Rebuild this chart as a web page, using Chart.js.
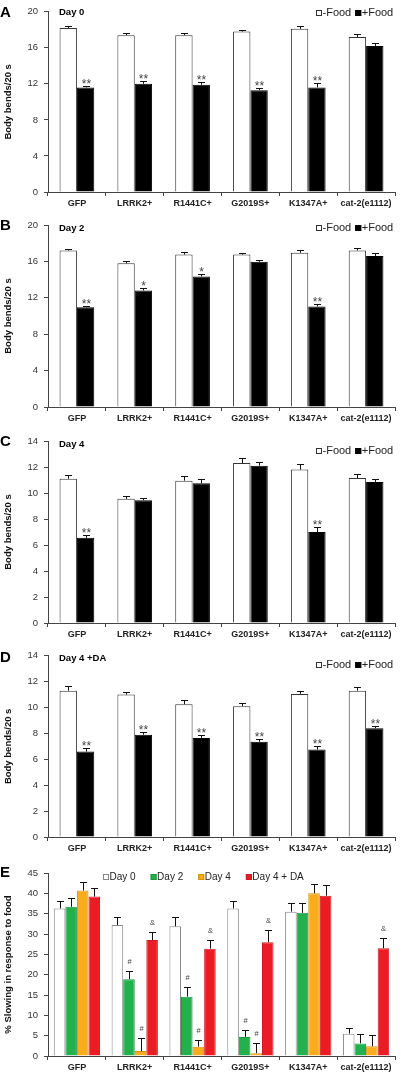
<!DOCTYPE html>
<html>
<head>
<meta charset="utf-8">
<script src="https://cdn.jsdelivr.net/npm/chart.js@4.4.1/dist/chart.umd.min.js"></script>
<style>
  body { margin: 0; background: #fff; }
  #wrap { position: relative; width: 400px; height: 1075px; overflow: hidden; }
  canvas { position: absolute; left: 0; }
</style>
</head>
<body>
<div id="wrap">
  <canvas id="cA"></canvas>
  <canvas id="cB"></canvas>
  <canvas id="cC"></canvas>
  <canvas id="cD"></canvas>
  <canvas id="cE"></canvas>
</div>
<script>
// strains on the x axis
const strains = ["GFP", "LRRK2+", "R1441C+", "G2019S+", "K1347A+", "cat-2(e1112)"];

// A - Day 0
const day0NoFood = [18.2, 17.4, 17.4, 17.8, 18.1, 17.2];
const day0NoFoodErr = [0.2, 0.2, 0.2, 0.2, 0.3, 0.3];
const day0Food = [11.6, 12.0, 11.9, 11.3, 11.6, 16.2];
const day0FoodErr = [0.2, 0.3, 0.35, 0.2, 0.45, 0.3];
const day0Stars = ["**", "**", "**", "**", "**", ""];

// B - Day 2
const day2NoFood = [17.2, 15.8, 16.75, 16.75, 16.95, 17.2];
const day2NoFoodErr = [0.2, 0.2, 0.3, 0.2, 0.3, 0.3];
const day2Food = [10.95, 12.8, 14.35, 15.95, 11.05, 16.6];
const day2FoodErr = [0.15, 0.3, 0.25, 0.2, 0.3, 0.3];
const day2Stars = ["**", "*", "*", "", "**", ""];

// C - Day 4
const day4NoFood = [11.1, 9.55, 10.95, 12.3, 11.8, 11.15];
const day4NoFoodErr = [0.25, 0.25, 0.35, 0.4, 0.4, 0.28];
const day4Food = [6.55, 9.45, 10.75, 12.1, 7.0, 10.85];
const day4FoodErr = [0.2, 0.15, 0.3, 0.25, 0.4, 0.2];
const day4Stars = ["**", "", "", "", "**", ""];

// D - Day 4 + DA
const day4daNoFood = [11.3, 11.0, 10.25, 10.1, 11.05, 11.3];
const day4daNoFoodErr = [0.33, 0.2, 0.33, 0.23, 0.23, 0.25];
const day4daFood = [6.6, 7.9, 7.65, 7.35, 6.75, 8.4];
const day4daFoodErr = [0.3, 0.18, 0.23, 0.2, 0.25, 0.2];
const day4daStars = ["**", "**", "**", "**", "**", "**"];

// E - % slowing in response to food
const slowDay0 = [36.3, 32.2, 31.9, 36.3, 35.5, 5.5];
const slowDay0Err = [1.9, 1.9, 2.2, 1.9, 2.1, 1.3];
const slowDay2 = [36.7, 18.9, 14.6, 4.7, 35.2, 3.1];
const slowDay2Err = [2.2, 2.0, 2.4, 1.6, 2.5, 2.2];
const slowDay2Marks = ["", "#", "#", "#", "", ""];
const slowDay4 = [40.7, 1.2, 2.3, 0.7, 40.0, 2.4];
const slowDay4Err = [2.2, 3.2, 1.7, 2.6, 2.2, 2.7];
const slowDay4Marks = ["", "#", "#", "#", "", ""];
const slowDay4DA = [39.2, 28.5, 26.4, 28.0, 39.4, 26.5];
const slowDay4DAErr = [2.2, 2.1, 2.1, 2.9, 2.6, 2.6];
const slowDay4DAMarks = ["", "&", "&", "&", "", "&"];

Chart.defaults.font.family = "'Liberation Sans', Arial, sans-serif";
Chart.defaults.color = "#333";

const errorBars = {
  id: "errorBars",
  afterDatasetsDraw(chart) {
    const ctx = chart.ctx;
    const ys = chart.scales.y;
    chart.data.datasets.forEach((ds, i) => {
      const meta = chart.getDatasetMeta(i);
      meta.data.forEach((bar, j) => {
        const x = Math.round(bar.x) + 0.5;
        const top = Math.round(ys.getPixelForValue(ds.data[j] + ds.errors[j])) + 0.5;
        ctx.save();
        ctx.strokeStyle = "#111";
        ctx.lineWidth = 1;
        ctx.beginPath();
        ctx.moveTo(x, bar.y);
        ctx.lineTo(x, top);
        ctx.moveTo(x - 3.5, top);
        ctx.lineTo(x + 3.5, top);
        ctx.stroke();
        if (ds.marks && ds.marks[j]) {
          const m = ds.marks[j];
          ctx.fillStyle = "#444";
          ctx.textAlign = "center";
          ctx.textBaseline = "alphabetic";
          if (m.indexOf("*") >= 0) {
            ctx.font = "12px 'Liberation Sans', Arial";
            ctx.fillText(m, x, top + 1);
          } else {
            ctx.font = "7.5px 'Liberation Sans', Arial";
            ctx.fillText(m, x, top - 8);
          }
        }
        ctx.restore();
      });
    });
  }
};

const decor = {
  id: "decor",
  afterDraw(chart, args, o) {
    const ctx = chart.ctx;
    ctx.save();
    ctx.fillStyle = "#000";
    ctx.textBaseline = "middle";
    ctx.font = "bold 15px 'Liberation Sans', Arial";
    ctx.fillText(o.letter, 0, o.letterY);
    if (o.title) {
      ctx.font = "bold 9.5px 'Liberation Sans', Arial";
      ctx.fillText(o.title, 59, o.titleY);
    }
    ctx.font = o.legendFont + "px 'Liberation Sans', Arial";
    let x = o.legendX;
    chart.data.datasets.forEach((ds) => {
      ctx.fillStyle = ds.backgroundColor;
      ctx.fillRect(x, o.legendY - 3, 6, 6);
      ctx.strokeStyle = ds.borderColor;
      ctx.lineWidth = 1;
      ctx.strokeRect(x + 0.5, o.legendY - 2.5, 5, 5);
      ctx.fillStyle = "#222";
      ctx.fillText(ds.label, x + 6.5, o.legendY);
      x += 6.5 + ctx.measureText(ds.label).width + o.legendGap;
    });
    ctx.restore();
  }
};

function makeChart(id, top, height, padTop, xh, datasets, ymax, step, ytitle, deco, catPct) {
  const cv = document.getElementById(id);
  cv.width = 400;
  cv.height = height;
  cv.style.top = top + "px";
  return new Chart(cv, {
    type: "bar",
    data: { labels: strains, datasets: datasets },
    options: {
      responsive: false,
      animation: false,
      devicePixelRatio: 1,
      layout: { padding: { top: padTop, right: 5, bottom: 0, left: 0 } },
      datasets: { bar: { categoryPercentage: catPct, barPercentage: 1.0 } },
      plugins: { legend: { display: false }, tooltip: { enabled: false }, decor: deco },
      scales: {
        x: {
          ticks: { color: "#222", padding: 2, font: { size: 9, weight: "bold", family: "'Liberation Sans Narrow', 'Liberation Sans', Arial" } },
          grid: { drawOnChartArea: false, tickLength: 4, color: "#444" },
          border: { color: "#444" },
          afterFit: (s) => { s.height = xh; }
        },
        y: {
          min: 0,
          max: ymax,
          ticks: { stepSize: step, color: "#333", padding: 6, font: { size: 9.5 } },
          grid: { drawOnChartArea: false, tickLength: 4, color: "#444" },
          border: { color: "#444" },
          title: { display: true, text: ytitle, color: "#111", font: { size: 9.5, weight: "bold" }, padding: { top: 3, bottom: 0 } },
          afterFit: (s) => { s.width = 48; }
        }
      }
    },
    plugins: [errorBars, decor]
  });
}

function foodSets(noFood, noFoodErr, food, foodErr, stars) {
  return [
    { label: "-Food", data: noFood, errors: noFoodErr, backgroundColor: "#ffffff", borderColor: "#333", borderWidth: 1 },
    { label: "+Food", data: food, errors: foodErr, marks: stars, backgroundColor: "#000000", borderColor: "#000", borderWidth: 1 }
  ];
}

makeChart("cA", 0, 213, 10, 21,
  foodSets(day0NoFood, day0NoFoodErr, day0Food, day0FoodErr, day0Stars),
  20, 4, "Body bends/20 s",
  { letter: "A", letterY: 13, title: "Day 0", titleY: 12, legendX: 316, legendY: 13, legendGap: 4, legendFont: 11 }, 0.6);

makeChart("cB", 213, 215, 12, 21,
  foodSets(day2NoFood, day2NoFoodErr, day2Food, day2FoodErr, day2Stars),
  20, 4, "Body bends/20 s",
  { letter: "B", letterY: 13, title: "Day 2", titleY: 15, legendX: 316, legendY: 15, legendGap: 4, legendFont: 11 }, 0.6);

makeChart("cC", 428, 216, 13, 21,
  foodSets(day4NoFood, day4NoFoodErr, day4Food, day4FoodErr, day4Stars),
  14, 2, "Body bends/20 s",
  { letter: "C", letterY: 14, title: "Day 4", titleY: 16, legendX: 316, legendY: 23, legendGap: 4, legendFont: 11 }, 0.6);

makeChart("cD", 644, 214, 10, 21,
  foodSets(day4daNoFood, day4daNoFoodErr, day4daFood, day4daFoodErr, day4daStars),
  14, 2, "Body bends/20 s",
  { letter: "D", letterY: 14, title: "Day 4 +DA", titleY: 14, legendX: 316, legendY: 21, legendGap: 4, legendFont: 11 }, 0.6);

makeChart("cE", 855, 220, 18, 19, [
    { label: "Day 0", data: slowDay0, errors: slowDay0Err, backgroundColor: "#ffffff", borderColor: "#888", borderWidth: 1 },
    { label: "Day 2", data: slowDay2, errors: slowDay2Err, marks: slowDay2Marks, backgroundColor: "#22b14c", borderColor: "#1c9a40", borderWidth: 1 },
    { label: "Day 4", data: slowDay4, errors: slowDay4Err, marks: slowDay4Marks, backgroundColor: "#f9ad1c", borderColor: "#d88f10", borderWidth: 1 },
    { label: "Day 4 + DA", data: slowDay4DA, errors: slowDay4DAErr, marks: slowDay4DAMarks, backgroundColor: "#ec1c24", borderColor: "#d01820", borderWidth: 1 }
  ],
  45, 5, "% Slowing in response to food",
  { letter: "E", letterY: 18, title: "", titleY: 0, legendX: 103, legendY: 22, legendGap: 15, legendFont: 10 }, 0.8);
</script>
</body>
</html>
